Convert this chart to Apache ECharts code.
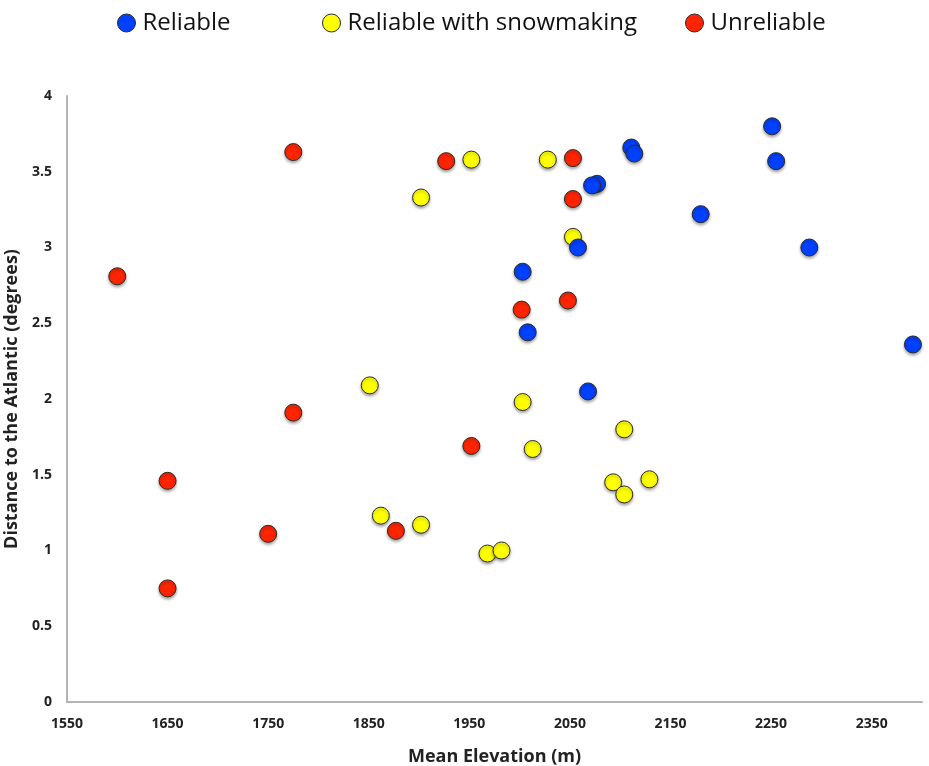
<!DOCTYPE html>
<html>
<head>
<meta charset="utf-8">
<script src="https://cdn.jsdelivr.net/npm/echarts@6/dist/echarts.min.js"></script>
<style>
  html, body { margin: 0; padding: 0; background: #fff; }
  #main { width: 929px; height: 766px; }
</style>
</head>
<body>
<div id="main"></div>
<script>
// elevation (m), distance (degrees)
var reliable = [
  [2251, 3.80], [2255, 3.57], [2111, 3.66], [2114, 3.62], [2077, 3.42],
  [2072, 3.41], [2180, 3.22], [2288, 3.00], [2058, 3.00], [2003, 2.84],
  [2008, 2.44], [2391, 2.36], [2068, 2.05]
];
var snowmaking = [
  [1952, 3.58], [1902, 3.33], [2028, 3.58], [2053, 3.07], [1851, 2.09],
  [2003, 1.98], [2013, 1.67], [2104, 1.80], [2093, 1.45], [2104, 1.37],
  [2129, 1.47], [1862, 1.23], [1902, 1.17], [1968, 0.98], [1982, 1.00]
];
var unreliable = [
  [1600, 2.81], [1650, 1.46], [1650, 0.75], [1750, 1.11], [1775, 3.63],
  [1775, 1.91], [1877, 1.13], [1927, 3.57], [1952, 1.69], [2002, 2.59],
  [2053, 3.59], [2053, 3.32], [2048, 2.65]
];
var seriesNames = ['Reliable', 'Reliable with snowmaking', 'Unreliable'];
var seriesColors = ['#0040ff', '#ffff00', '#ff2400'];

var chart = echarts.init(document.getElementById('main'));

//点样式
function dotStyle(c) {
  return {
    color: c,
    opacity: 1,
    borderColor: '#2b2b2b',
    borderWidth: 1,
    shadowBlur: 3,
    shadowColor: 'rgba(0,0,0,0.35)',
    shadowOffsetY: 2
  };
}

function legendAt(name, c, left) {
  return {
    data: [name],
    left: left,
    top: 6,
    icon: 'circle',
    itemWidth: 18,
    itemHeight: 18,
    itemStyle: { color: c, borderColor: '#2b2b2b', borderWidth: 1 },
    textStyle: { fontSize: 24, color: '#111', fontFamily: 'Open Sans, sans-serif', padding: [0, 0, 0, 2] },
    selectedMode: false
  };
}

var option = {
  animation: false,
  backgroundColor: '#fff',
  legend: [
    legendAt(seriesNames[0], seriesColors[0], 112),
    legendAt(seriesNames[1], seriesColors[1], 317),
    legendAt(seriesNames[2], seriesColors[2], 680)
  ],
  grid: { left: 67, right: 7, top: 96, bottom: 64, outerBoundsMode: 'none', containLabel: false },
  xAxis: {
    type: 'value',
    min: 1550,
    max: 2400,
    interval: 100,
    name: 'Mean Elevation (m)',
    nameLocation: 'middle',
    nameGap: 46,
    nameTextStyle: { fontSize: 18, fontWeight: 'bold', color: '#222', fontFamily: 'Open Sans, sans-serif' },
    axisLine: { lineStyle: { color: '#b4b4b4', width: 2 } },
    axisTick: { show: false },
    splitLine: { show: false },
    axisLabel: {
      showMaxLabel: false,
      margin: 15,
      fontSize: 14,
      fontWeight: 'bold',
      color: '#222',
      fontFamily: 'Open Sans, sans-serif',
      formatter: function (v) { return String(v); }
    }
  },
  yAxis: {
    type: 'value',
    min: 0,
    max: 4,
    interval: 0.5,
    name: 'Distance to the Atlantic (degrees)',
    nameLocation: 'middle',
    nameGap: 40,
    nameTextStyle: { fontSize: 18, fontWeight: 'bold', color: '#222', fontFamily: 'Open Sans, sans-serif' },
    axisLine: { show: true, lineStyle: { color: '#b4b4b4', width: 2 } },
    axisTick: { show: false },
    splitLine: { show: false },
    axisLabel: {
      margin: 15,
      fontSize: 14,
      fontWeight: 'bold',
      color: '#222',
      fontFamily: 'Open Sans, sans-serif',
      formatter: function (v) { return String(v); }
    }
  },
  series: [
    {
      name: seriesNames[0],
      type: 'scatter',
      z: 4,
      symbolSize: 17,
      itemStyle: dotStyle(seriesColors[0]),
      data: reliable
    },
    {
      name: seriesNames[1],
      type: 'scatter',
      z: 2,
      symbolSize: 17,
      itemStyle: dotStyle(seriesColors[1]),
      data: snowmaking
    },
    {
      name: seriesNames[2],
      type: 'scatter',
      z: 3,
      symbolSize: 17,
      itemStyle: dotStyle(seriesColors[2]),
      data: unreliable
    }
  ]
};
chart.setOption(option);
</script>
</body>
</html>
